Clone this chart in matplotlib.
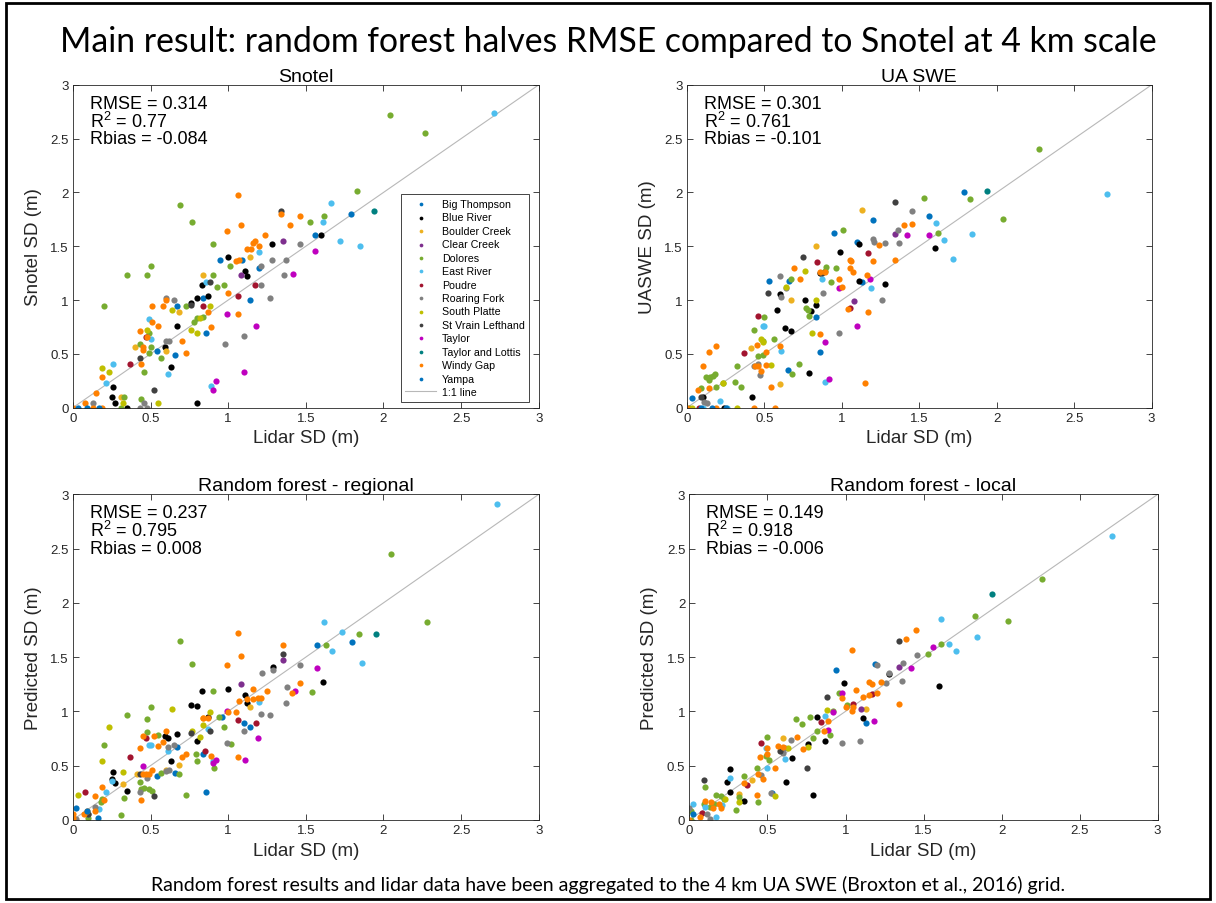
import matplotlib.pyplot as plt
from matplotlib.patches import Rectangle

plt.rcParams['font.family'] = ['Liberation Sans', 'DejaVu Sans']
plt.rcParams['mathtext.fontset'] = 'custom'
plt.rcParams['mathtext.rm'] = 'Liberation Sans'

sites = ["Big Thompson", "Blue River", "Boulder Creek", "Clear Creek", "Dolores",
         "East River", "Poudre", "Roaring Fork", "South Platte", "St Vrain Lefthand",
         "Taylor", "Taylor and Lottis", "Windy Gap", "Yampa"]
colors = ["#0072BD", "#000000", "#EDB120", "#7E2F8E", "#77AC30", "#4DBEEE", "#A2142F",
          "#808080", "#BFBF00", "#404040", "#BF00BF", "#008080", "#FF8000", "#0072BD"]

# (lidar SD, other SD) pairs
snotel = {
    "Big Thompson": [(0.54, 0.53), (0.66, 0.49), (0.67, 0.94), (0.84, 1.02), (0.86, 0.69), (0.95, 1.37),
                     (1.09, 1.37), (1.14, 1.0), (1.2, 1.3), (1.56, 1.6), (1.79, 1.8)],
    "Blue River": [(0.25, 0.1), (0.26, 0.19), (0.27, 0.04), (0.35, 0.0), (0.59, 0.56), (0.63, 0.38),
                   (0.67, 0.76), (0.76, 0.97), (0.8, 1.02), (0.8, 0.04), (0.83, 1.14), (0.87, 1.04),
                   (1.0, 1.4), (1.11, 1.27), (1.12, 1.22), (1.28, 1.52), (1.6, 1.6)],
    "Boulder Creek": [(0.31, 0.1), (0.4, 0.56), (0.6, 0.53), (0.68, 0.89), (0.84, 1.23), (1.14, 1.4)],
    "Clear Creek": [(1.08, 1.23), (1.35, 1.55)],
    "Dolores": [(0.2, 0.94), (0.31, 0.0), (0.33, 0.1), (0.35, 1.23), (0.43, 0.59), (0.44, 0.08),
                (0.46, 0.33), (0.48, 1.23), (0.5, 1.32), (0.49, 0.51), (0.49, 0.69), (0.5, 0.56),
                (0.57, 0.46), (0.69, 1.88), (0.73, 0.94), (0.77, 1.73), (0.78, 0.8), (0.8, 0.83),
                (0.84, 0.84), (0.9, 1.23), (0.9, 1.52), (0.93, 1.12), (0.97, 1.14), (1.01, 1.32),
                (1.53, 1.73), (1.62, 1.78), (1.83, 2.01), (2.04, 2.72), (2.27, 2.55)],
    "East River": [(0.21, 0.23), (0.26, 0.41), (0.49, 0.82), (0.5, 0.64), (0.61, 0.31), (0.86, 1.17),
                   (0.89, 0.2), (1.2, 1.45), (1.61, 1.73), (1.66, 1.9), (1.72, 1.55), (1.85, 1.5),
                   (2.71, 2.74)],
    "Poudre": [(0.37, 0.41), (0.47, 0.66), (0.84, 0.94), (1.06, 1.04), (1.17, 1.14)],
    "Roaring Fork": [(0.13, 0.04), (0.43, 0.0), (0.46, 0.04), (0.48, 0.0), (0.6, 0.62), (0.62, 0.62),
                     (0.6, 1.02), (0.65, 1.0), (0.98, 0.59), (1.1, 0.67), (1.21, 1.32), (1.21, 1.14),
                     (1.27, 1.02), (1.28, 1.37), (1.36, 1.23), (1.37, 1.37), (1.46, 1.52)],
    "South Platte": [(0.19, 0.37), (0.23, 0.33), (0.32, 0.04), (0.55, 0.04), (0.48, 0.72), (0.64, 0.91),
                     (0.76, 0.72), (0.8, 0.69), (0.82, 0.83), (0.88, 0.94)],
    "St Vrain Lefthand": [(0.43, 0.46), (0.52, 0.16), (0.76, 0.95), (0.88, 1.17), (1.34, 1.83)],
    "Taylor": [(0.9, 0.16), (0.92, 0.25), (0.99, 0.87), (1.1, 0.33), (1.18, 0.76), (1.42, 1.24),
               (1.56, 1.46)],
    "Taylor and Lottis": [(1.94, 1.83)],
    "Windy Gap": [(0.0, 0.0), (0.08, 0.04), (0.13, 0.0), (0.19, 0.0), (0.15, 0.14), (0.19, 0.28),
                  (0.43, 0.71), (0.44, 0.41), (0.45, 0.54), (0.45, 0.56), (0.48, 0.66), (0.51, 0.94),
                  (0.51, 0.8), (0.55, 0.76), (0.58, 0.94), (0.6, 1.0), (0.7, 0.62), (0.73, 0.51),
                  (0.87, 0.89), (0.89, 0.75), (0.99, 1.64), (1.0, 1.07), (1.06, 1.98), (1.06, 0.87),
                  (1.08, 1.7), (1.05, 1.36), (1.07, 1.37), (1.12, 1.47), (1.15, 1.47), (1.16, 1.53),
                  (1.17, 1.55), (1.2, 1.5), (1.24, 1.6), (1.34, 1.8), (1.4, 1.7), (1.46, 1.78)],
    "Yampa": [(0.03, 0.0), (0.09, 0.0), (0.17, 0.0)],
}

uaswe = {
    "Big Thompson": [(0.53, 1.18), (0.66, 1.18), (0.65, 0.35), (0.83, 0.84), (0.86, 0.52), (0.95, 1.62),
                     (1.1, 1.54), (1.13, 1.17), (1.2, 1.74), (1.56, 1.78), (1.79, 2.0)],
    "Blue River": [(0.1, 0.1), (0.24, 0.0), (0.42, 0.1), (0.58, 0.91), (0.6, 1.06), (0.63, 0.74),
                   (0.67, 0.71), (0.76, 1.0), (0.79, 0.32), (0.8, 0.9), (0.83, 0.95), (0.86, 1.25),
                   (0.99, 1.45), (1.11, 1.18), (1.11, 1.52), (1.28, 1.15), (1.6, 1.48)],
    "Boulder Creek": [(0.41, 0.55), (0.6, 0.22), (0.67, 1.0), (0.83, 1.5), (1.13, 1.84)],
    "Clear Creek": [(1.08, 0.99), (1.34, 1.61)],
    "Dolores": [(0.01, 0.0), (0.09, 0.18), (0.12, 0.28), (0.14, 0.26), (0.15, 0.28), (0.18, 0.31),
                (0.17, 0.29), (0.19, 0.19), (0.23, 0.23), (0.31, 0.24), (0.32, 0.39), (0.35, 0.19),
                (0.43, 0.72), (0.46, 0.48), (0.49, 0.49), (0.49, 0.62), (0.5, 0.84), (0.56, 0.64),
                (0.67, 1.2), (0.68, 0.31), (0.72, 0.41), (0.77, 0.93), (0.78, 0.91), (0.79, 0.85),
                (0.89, 1.27), (0.9, 1.31), (0.93, 1.17), (0.96, 1.3), (1.01, 1.65), (1.53, 1.95),
                (1.62, 1.62), (1.83, 1.94), (2.04, 1.75), (2.27, 2.4)],
    "East River": [(0.1, 0.0), (0.21, 0.06), (0.26, 0.0), (0.49, 0.76), (0.5, 0.76), (0.61, 0.53),
                   (0.87, 1.2), (0.89, 0.24), (1.19, 1.11), (1.61, 1.72), (1.66, 1.56), (1.72, 1.38),
                   (1.84, 1.61), (2.71, 1.99)],
    "Poudre": [(0.08, 0.0), (0.37, 0.51), (0.46, 0.85), (0.84, 1.35), (1.05, 0.93), (1.17, 1.44)],
    "Roaring Fork": [(0.11, 0.05), (0.13, 0.04), (0.47, 0.3), (0.46, 0.41), (0.43, 0.39), (0.6, 1.22),
                     (0.61, 1.03), (0.64, 1.11), (0.88, 1.07), (0.98, 0.69), (1.2, 1.57), (1.21, 1.54),
                     (1.26, 1.0), (1.28, 1.53), (1.37, 1.53), (1.36, 1.65), (1.45, 1.83)],
    "South Platte": [(0.03, 0.0), (0.23, 0.23), (0.32, 0.0), (0.48, 0.64), (0.49, 0.61), (0.54, 0.4),
                     (0.64, 1.12), (0.76, 1.27), (0.81, 0.69), (0.83, 1.0)],
    "St Vrain Lefthand": [(0.09, 0.1), (0.52, 1.07), (0.75, 1.4), (0.87, 1.25), (1.34, 1.91)],
    "Taylor": [(0.89, 0.61), (0.92, 0.27), (0.98, 1.11), (1.1, 0.76), (1.18, 1.2), (1.42, 1.6),
               (1.56, 1.6)],
    "Taylor and Lottis": [(1.94, 2.01)],
    "Windy Gap": [(0.0, 0.0), (0.07, 0.16), (0.1, 0.39), (0.14, 0.52), (0.14, 0.18), (0.19, 0.57),
                  (0.19, 0.0), (0.43, 0.0), (0.44, 0.39), (0.45, 0.58), (0.46, 0.39), (0.48, 0.34),
                  (0.51, 0.52), (0.51, 0.4), (0.54, 0.19), (0.57, 0.0), (0.6, 0.57), (0.69, 1.3),
                  (0.73, 1.2), (0.86, 1.26), (0.86, 0.68), (0.89, 1.26), (0.98, 1.2), (1.0, 1.12),
                  (1.04, 0.92), (1.05, 1.37), (1.06, 1.36), (1.05, 1.3), (1.07, 1.26), (1.15, 0.23),
                  (1.16, 1.23), (1.17, 0.89), (1.2, 1.36), (1.24, 1.51), (1.34, 1.37), (1.4, 1.7),
                  (1.45, 1.71)],
    "Yampa": [(0.03, 0.09), (0.09, 0.0), (0.16, 0.0), (0.25, 0.0)],
}

rf_regional = {
    "Big Thompson": [(0.54, 0.4), (0.66, 0.43), (0.67, 0.67), (0.84, 0.61), (0.86, 0.26), (0.96, 0.95),
                     (1.1, 0.89), (1.14, 0.86), (1.57, 1.61), (1.8, 1.64)],
    "Blue River": [(0.25, 0.38), (0.26, 0.44), (0.27, 0.34), (0.35, 0.27), (0.59, 0.77), (0.61, 0.75),
                   (0.63, 0.54), (0.67, 0.79), (0.76, 1.06), (0.8, 1.05), (0.83, 1.19), (0.8, 0.73),
                   (0.87, 0.95), (1.0, 1.21), (1.11, 1.15), (1.12, 1.08), (1.29, 1.41), (1.61, 1.27)],
    "Boulder Creek": [(0.32, 0.33), (0.41, 0.42), (0.6, 0.46), (0.68, 0.51), (0.84, 0.94), (1.14, 1.04)],
    "Clear Creek": [(1.08, 1.25), (1.35, 1.47)],
    "Dolores": [(0.1, 0.02), (0.18, 0.16), (0.19, 0.19), (0.2, 0.69), (0.31, 0.04), (0.33, 0.2),
                (0.35, 0.97), (0.43, 0.35), (0.44, 0.28), (0.46, 0.29), (0.48, 0.93), (0.49, 0.28),
                (0.5, 1.04), (0.51, 0.27), (0.48, 0.81), (0.55, 0.78), (0.57, 0.43), (0.68, 0.42),
                (0.69, 1.65), (0.73, 0.23), (0.77, 1.44), (0.79, 0.61), (0.8, 0.54), (0.9, 1.19),
                (0.91, 0.48), (0.94, 0.95), (0.97, 0.86), (1.02, 0.7), (1.54, 1.18), (1.63, 1.61),
                (1.84, 1.71), (2.05, 2.45), (2.28, 1.82)],
    "East River": [(0.17, 0.1), (0.21, 0.26), (0.25, 0.36), (0.49, 0.69), (0.5, 0.69), (0.61, 0.63),
                   (0.87, 0.84), (0.9, 0.54), (1.2, 1.09), (1.62, 1.82), (1.73, 1.73), (1.67, 1.56),
                   (1.86, 1.45), (2.73, 2.91)],
    "Poudre": [(0.08, 0.26), (0.37, 0.58), (0.47, 0.75), (0.85, 0.63), (1.06, 0.92), (1.18, 0.89)],
    "Roaring Fork": [(0.02, 0.01), (0.1, 0.05), (0.14, 0.12), (0.43, 0.26), (0.48, 0.39), (0.61, 0.67),
                     (0.6, 0.45), (0.62, 0.46), (0.65, 0.69), (0.99, 0.71), (1.1, 0.82), (1.21, 0.98),
                     (1.22, 1.35), (1.27, 0.97), (1.29, 1.38), (1.37, 1.08), (1.38, 1.22), (1.46, 1.43)],
    "South Platte": [(0.03, 0.23), (0.19, 0.54), (0.23, 0.86), (0.32, 0.44), (0.64, 1.02), (0.77, 0.82),
                     (0.82, 0.76), (0.84, 0.87), (0.88, 0.99)],
    "St Vrain Lefthand": [(0.1, 0.05), (0.43, 0.42), (0.52, 0.22), (0.76, 0.8), (0.88, 0.82), (1.35, 1.53)],
    "Taylor": [(0.45, 0.5), (0.9, 0.52), (0.92, 0.55), (0.99, 1.0), (1.11, 0.55), (1.19, 0.75),
               (1.43, 1.19), (1.57, 1.4)],
    "Taylor and Lottis": [(1.95, 1.71)],
    "Windy Gap": [(0.0, 0.05), (0.0, 0.02), (0.07, 0.05), (0.09, 0.08), (0.14, 0.08), (0.14, 0.22),
                  (0.19, 0.3), (0.2, 0.18), (0.43, 0.66), (0.44, 0.18), (0.45, 0.77), (0.45, 0.42),
                  (0.47, 0.42), (0.49, 0.42), (0.52, 0.77), (0.51, 0.46), (0.55, 0.68), (0.58, 0.72),
                  (0.6, 0.82), (0.7, 0.58), (0.73, 0.61), (0.84, 0.94), (0.87, 0.94), (0.89, 0.59),
                  (0.99, 1.43), (1.0, 0.99), (1.05, 0.99), (1.06, 0.58), (1.06, 1.72), (1.07, 1.1),
                  (1.08, 1.51), (1.12, 1.11), (1.16, 1.21), (1.16, 1.11), (1.19, 1.12), (1.21, 1.12),
                  (1.25, 1.19), (1.35, 1.61), (1.41, 1.17), (1.46, 1.26)],
    "Yampa": [(0.02, 0.11), (0.09, 0.08), (0.16, 0.02)],
}

rf_local = {
    "Big Thompson": [(0.94, 1.38), (1.13, 0.89), (0.53, 0.25), (1.19, 1.44)],
    "Blue River": [(0.26, 0.47), (0.24, 0.35), (0.26, 0.26), (0.35, 0.17), (0.66, 0.57), (0.62, 0.35),
                   (0.76, 0.7), (0.79, 0.23), (0.82, 0.95), (0.87, 0.73), (0.99, 1.26), (1.11, 0.94),
                   (1.28, 1.34), (1.6, 1.23)],
    "Boulder Creek": [(0.4, 0.37), (0.6, 0.75), (1.13, 1.02), (0.32, 0.24)],
    "Clear Creek": [(1.1, 1.02), (1.34, 1.41)],
    "Dolores": [(0.01, 0.0), (0.01, 0.08), (0.09, 0.15), (0.1, 0.3), (0.13, 0.12), (0.16, 0.15),
                (0.17, 0.23), (0.2, 0.22), (0.22, 0.19), (0.3, 0.09), (0.32, 0.21), (0.35, 0.4),
                (0.43, 0.48), (0.44, 0.16), (0.5, 0.76), (0.49, 0.59), (0.51, 0.55), (0.68, 0.93),
                (0.72, 0.88), (0.77, 0.95), (0.79, 0.75), (0.82, 0.82), (0.9, 0.78), (0.92, 1.0),
                (0.96, 1.17), (1.01, 1.06), (1.53, 1.53), (1.61, 1.62), (1.83, 1.88), (2.04, 1.83),
                (2.26, 2.22)],
    "East River": [(0.02, 0.15), (0.1, 0.12), (0.17, 0.03), (0.21, 0.14), (0.26, 0.39), (0.49, 0.66),
                   (0.5, 0.48), (0.61, 0.56), (0.87, 0.96), (1.61, 1.85), (1.66, 1.62), (1.71, 1.56),
                   (1.84, 1.69), (2.71, 2.62)],
    "Poudre": [(0.08, 0.06), (0.37, 0.32), (0.46, 0.71), (0.84, 0.9), (1.05, 1.07), (1.17, 1.16)],
    "Roaring Fork": [(0.0, 0.11), (0.11, 0.05), (0.13, 0.01), (0.46, 0.41), (0.52, 0.25), (0.6, 0.62),
                     (0.61, 0.66), (0.65, 0.74), (0.98, 0.71), (1.09, 0.73), (1.2, 1.43), (1.26, 1.26),
                     (1.28, 1.35), (1.36, 1.28), (1.37, 1.45), (1.46, 1.52)],
    "South Platte": [(0.23, 0.19), (0.32, 0.16), (0.55, 0.22), (0.63, 0.66), (0.76, 0.67), (0.88, 1.01)],
    "St Vrain Lefthand": [(0.09, 0.37), (0.58, 0.63), (0.75, 0.48), (0.88, 1.13), (1.34, 1.65)],
    "Taylor": [(0.89, 0.83), (0.92, 0.99), (0.98, 1.17), (1.18, 0.91), (1.42, 1.4), (1.56, 1.59)],
    "Taylor and Lottis": [(1.94, 2.08)],
    "Windy Gap": [(0.0, 0.0), (0.07, 0.03), (0.1, 0.17), (0.14, 0.16), (0.19, 0.15), (0.2, 0.11),
                  (0.15, 0.11), (0.35, 0.34), (0.43, 0.23), (0.45, 0.58), (0.44, 0.42), (0.47, 0.38),
                  (0.5, 0.66), (0.5, 0.61), (0.55, 0.48), (0.57, 0.68), (0.6, 0.67), (0.69, 0.76),
                  (0.73, 0.65), (0.86, 0.82), (0.89, 0.91), (0.98, 1.12), (1.0, 1.04), (1.04, 1.57),
                  (1.04, 1.0), (1.05, 1.04), (1.07, 1.2), (1.11, 1.13), (1.15, 1.15), (1.15, 1.27),
                  (1.17, 1.25), (1.2, 1.17), (1.23, 1.27), (1.34, 1.07), (1.39, 1.67), (1.45, 1.75)],
    "Yampa": [(0.02, 0.05)],
}

panels = [
    ("Snotel", "Snotel SD (m)", snotel, ["RMSE = 0.314", "R$^2$ = 0.77", "Rbias = -0.084"]),
    ("UA SWE", "UASWE SD (m)", uaswe, ["RMSE = 0.301", "R$^2$ = 0.761", "Rbias = -0.101"]),
    ("Random forest - regional", "Predicted SD (m)", rf_regional, ["RMSE = 0.237", "R$^2$ = 0.795", "Rbias = 0.008"]),
    ("Random forest - local", "Predicted SD (m)", rf_local, ["RMSE = 0.149", "R$^2$ = 0.918", "Rbias = -0.006"]),
]
ticks = [0, 0.5, 1, 1.5, 2, 2.5, 3]
tick_labels = ["0", "0.5", "1", "1.5", "2", "2.5", "3"]

fig = plt.figure(figsize=(12.16, 9.04), dpi=100)
fig.patches.append(Rectangle((0.005, 0.004), 0.99, 0.992, transform=fig.transFigure,
                             fill=False, edgecolor='black', linewidth=2))

boxes = [[0.060, 0.548, 0.383, 0.357], [0.565, 0.548, 0.382, 0.357],
         [0.060, 0.092, 0.383, 0.360], [0.567, 0.092, 0.385, 0.360]]

for i, (title, ylab, data, stats) in enumerate(panels):
    ax = fig.add_axes(boxes[i])
    ax.plot([0, 3], [0, 3], color='0.72', linewidth=0.8, label='1:1 line', zorder=1)
    for name, col in zip(sites, colors):
        pts = data[name]
        ax.scatter([p[0] for p in pts], [p[1] for p in pts], s=20, color=col,
                   linewidths=0, label=name, zorder=2)
    ax.set_xlim(0, 3)
    ax.set_ylim(0, 3)
    ax.set_xticks(ticks)
    ax.set_xticklabels(tick_labels)
    ax.set_yticks(ticks)
    ax.set_yticklabels(tick_labels)
    ax.tick_params(direction='in', top=True, right=True, length=4, width=0.6,
                   colors='0.15', labelsize=9.5, pad=3)
    for sp in ax.spines.values():
        sp.set_color('0.15')
        sp.set_linewidth(0.6)
    ax.set_title(title, fontsize=14, pad=3)
    ax.set_xlabel("Lidar SD (m)", fontsize=13.5, color='0.15', labelpad=4)
    ax.set_ylabel(ylab, fontsize=13.5, color='0.15', labelpad=6)
    ax.text(0.036, 0.97, "\n".join(stats), transform=ax.transAxes, fontsize=13,
            va='top', ha='left', linespacing=0.95)
    if i == 0:
        handles, labels = ax.get_legend_handles_labels()
        order = list(range(1, len(handles))) + [0]
        leg = ax.legend([handles[k] for k in order], [labels[k] for k in order],
                        loc='lower right', bbox_to_anchor=(0.98, 0.018), fontsize=7.7,
                        fancybox=False, edgecolor='0.15', framealpha=1, markerscale=0.6,
                        labelspacing=0.32, handlelength=2.9, handletextpad=0.5,
                        borderaxespad=0, borderpad=0.45)
        leg.get_frame().set_linewidth(0.6)

fig.text(0.5, 0.953, "Main result: random forest halves RMSE compared to Snotel at 4 km scale",
         ha='center', va='center', fontsize=24.3, family='Lato')
fig.text(0.5, 0.021, "Random forest results and lidar data have been aggregated to the 4 km UA SWE "
         "(Broxton et al., 2016) grid.", ha='center', va='center', fontsize=14, family='Lato')

fig.savefig("out.png", dpi=100)
